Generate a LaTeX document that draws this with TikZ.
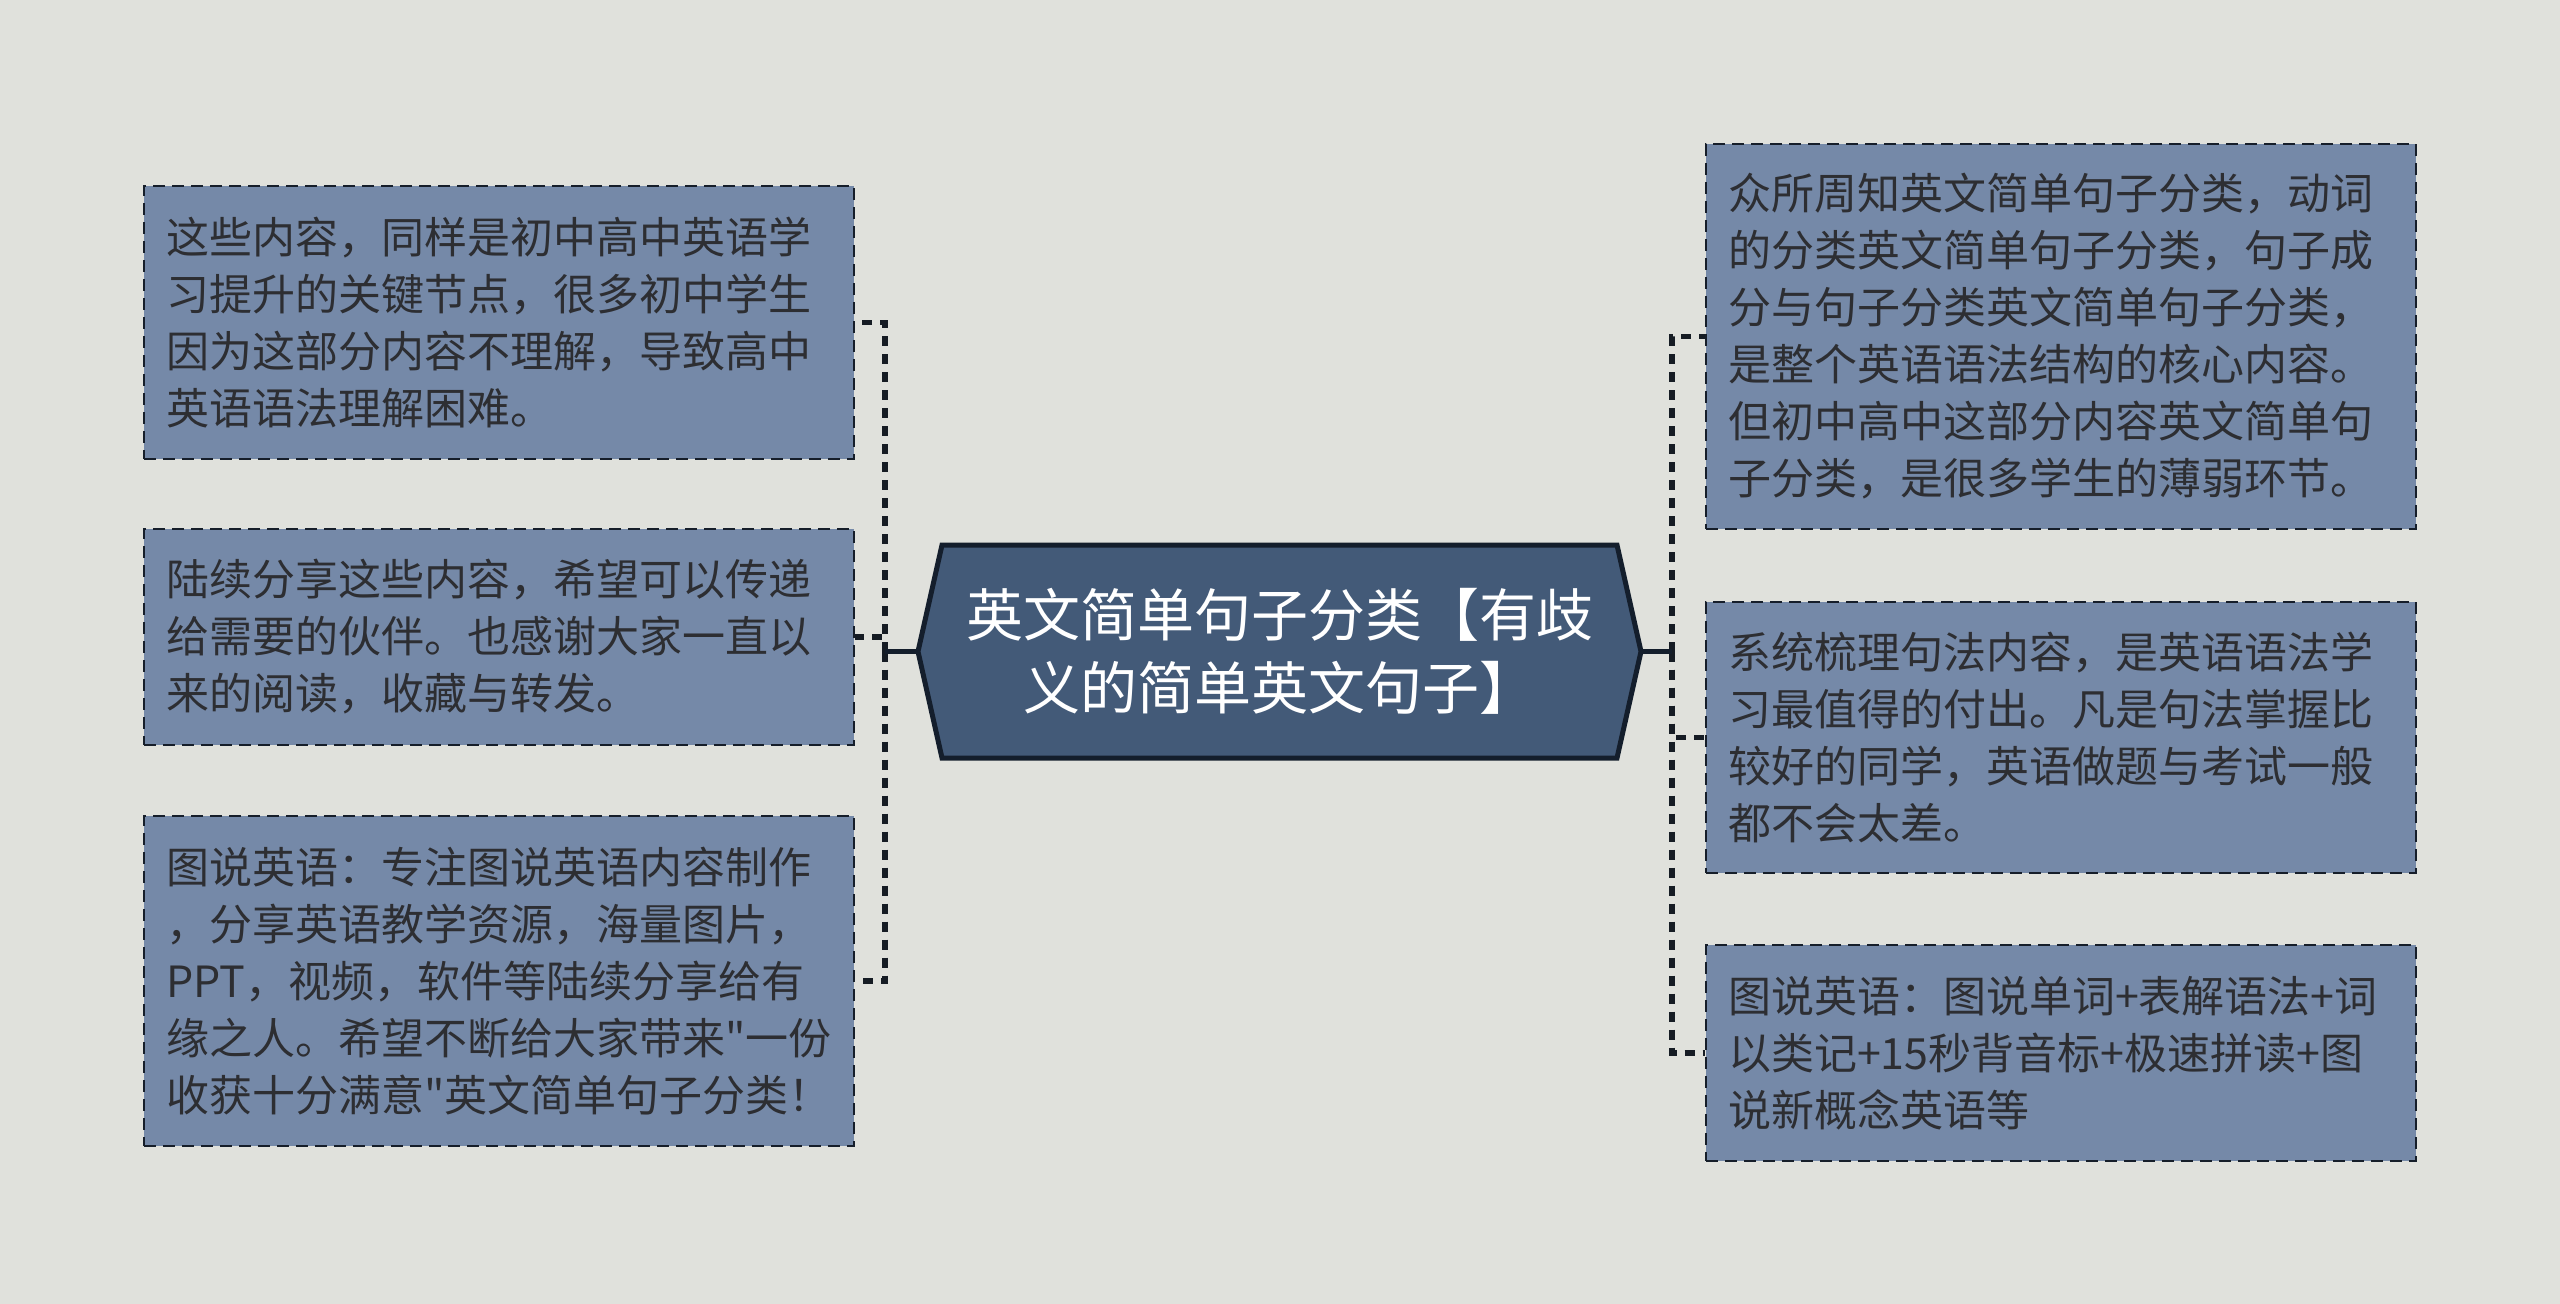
\documentclass[tikz,border=0pt]{standalone}
\usepackage{fontspec}
\setmainfont{Noto Sans CJK SC}[Ligatures=TeXOff]
\usetikzlibrary{calc}
\definecolor{bgc}{RGB}{224,225,220}
\definecolor{boxfill}{RGB}{117,137,168}
\definecolor{boxline}{RGB}{22,30,42}
\definecolor{hexfill}{RGB}{67,90,120}
\definecolor{hexline}{RGB}{20,30,44}
\definecolor{txt}{RGB}{45,46,50}
\definecolor{conn}{RGB}{22,28,36}
\tikzset{
  leafbox/.style={draw=boxline, fill=boxfill, line width=2.5pt,
    dash pattern=on 12pt off 7pt, rectangle, minimum width=710pt,
    text width=666pt, inner xsep=22pt, inner ysep=0pt, align=left,
    text=txt, font=\fontsize{43}{57}\selectfont},
  hexlabel/.style={minimum width=723pt, minimum height=213pt, inner sep=0pt,
    text=white, align=center, font=\fontsize{57}{73.5}\selectfont},
  hexborder/.style={draw=hexline, fill=hexfill, line width=5pt, line join=miter},
  trunk/.style={draw=conn, line width=5.5pt, dash pattern=on 10pt off 8pt},
  stem/.style={draw=hexline, line width=5pt}
}
\begin{document}
\begin{tikzpicture}[x=1pt,y=-1pt]
\fill[bgc] (0,0) rectangle (2560,1304);
\useasboundingbox (0,0) rectangle (2560,1304);

% centre
\coordinate (cc) at (1279.5,651.5);
\path[hexborder] ($(cc)+(-361.5,0)$) -- ($(cc)+(-337.5,-106.5)$) -- ($(cc)+(337.5,-106.5)$)
  -- ($(cc)+(361.5,0)$) -- ($(cc)+(337.5,106.5)$) -- ($(cc)+(-337.5,106.5)$) -- cycle;
\node[hexlabel] (c) at (cc) {英文简单句子分类【有歧\\义的简单英文句子】};

% left boxes
\node[leafbox, minimum height=273pt] (l1) at (499,322.5)
  {这些内容，同样是初中高中英语学\\习提升的关键节点，很多初中学生\\因为这部分内容不理解，导致高中\\英语语法理解困难。};
\node[leafbox, minimum height=216pt] (l2) at (499,637)
  {陆续分享这些内容，希望可以传递\\给需要的伙伴。也感谢大家一直以\\来的阅读，收藏与转发。};
\node[leafbox, minimum height=330pt] (l3) at (499,981)
  {图说英语：专注图说英语内容制作\\，分享英语教学资源，海量图片，\\PPT，视频，软件等陆续分享给有\\缘之人。希望不断给大家带来"一份\\收获十分满意"英文简单句子分类！};

% right boxes
\node[leafbox, minimum height=385pt] (r1) at (2061,336.5)
  {众所周知英文简单句子分类，动词\\的分类英文简单句子分类，句子成\\分与句子分类英文简单句子分类，\\是整个英语语法结构的核心内容。\\但初中高中这部分内容英文简单句\\子分类，是很多学生的薄弱环节。};
\node[leafbox, minimum height=271pt] (r2) at (2061,737.5)
  {系统梳理句法内容，是英语语法学\\习最值得的付出。凡是句法掌握比\\较好的同学，英语做题与考试一般\\都不会太差。};
\node[leafbox, minimum height=216pt] (r3) at (2061,1053)
  {图说英语：图说单词+表解语法+词\\以类记+15秒背音标+极速拼读+图\\说新概念英语等};

% connectors
\coordinate (lj) at (885,651.5);
\coordinate (rj) at (1672,651.5);
\draw[trunk] (lj) |- (l1.east);
\draw[trunk] (lj) |- (l2.east);
\draw[trunk] (lj) |- (l3.east);
\draw[trunk] (rj) |- (r1.west);
\draw[trunk] (rj) |- (r2.west);
\draw[trunk] (rj) |- (r3.west);
\draw[stem] (c.west) -- (lj);
\draw[stem] (c.east) -- (rj);
\end{tikzpicture}
\end{document}
